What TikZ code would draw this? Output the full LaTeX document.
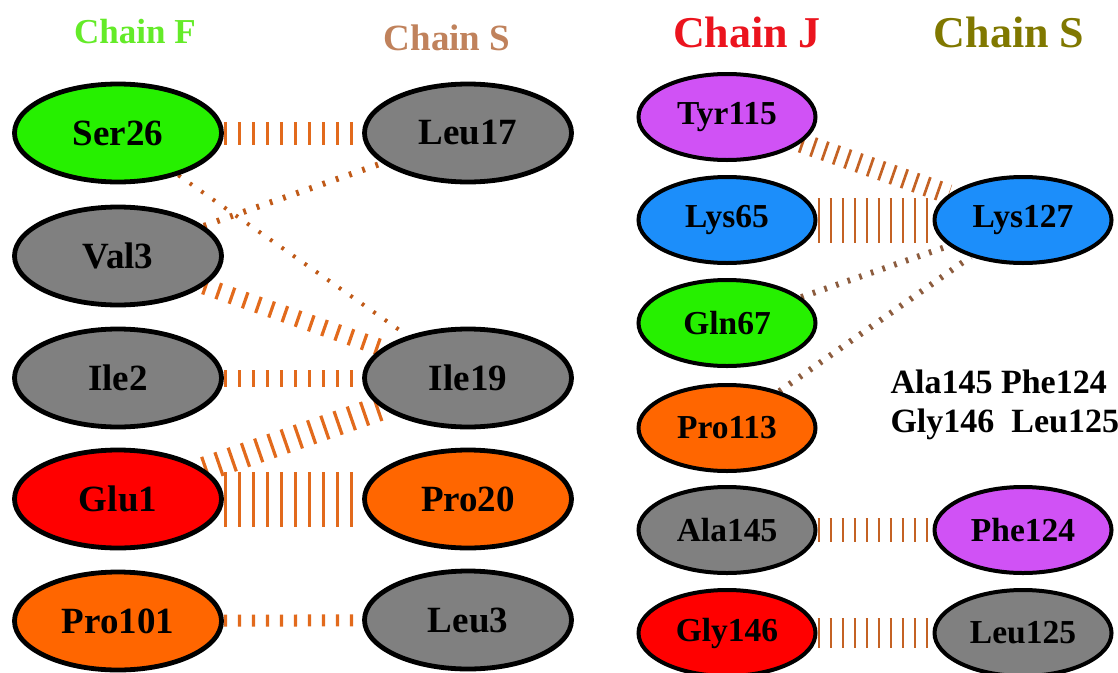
\documentclass[tikz,border=0pt]{standalone}
\usepackage{fontspec}
\setmainfont{Liberation Serif}
\usetikzlibrary{shapes.geometric,backgrounds}

% residue fills
\definecolor{resGreen}{RGB}{38,240,0}
\definecolor{resGray}{RGB}{128,128,128}
\definecolor{resRed}{RGB}{255,0,0}
\definecolor{resOrange}{RGB}{255,102,0}
\definecolor{resPurple}{RGB}{208,82,245}
\definecolor{resBlue}{RGB}{28,142,250}
% chain titles
\definecolor{titF}{RGB}{100,235,40}
\definecolor{titSa}{RGB}{192,130,92}
\definecolor{titJ}{RGB}{235,20,30}
\definecolor{titSb}{RGB}{128,120,0}
% contact ladders
\definecolor{bondL}{RGB}{226,106,28}
\definecolor{bondR}{RGB}{196,98,36}
\definecolor{bondD}{RGB}{140,92,62}

\begin{document}
\begin{tikzpicture}[x=1pt,y=-1pt,
  resL/.style={ellipse, draw=black, line width=4.8pt, minimum width=207pt,
    minimum height=98pt, inner sep=0pt, font=\fontsize{37}{40}\selectfont\bfseries},
  resR/.style={ellipse, draw=black, line width=4pt, minimum width=177pt,
    minimum height=86pt, inner sep=0pt, font=\fontsize{33.5}{36}\selectfont\bfseries},
  title/.style={anchor=base, font=\bfseries},
  pairtext/.style={anchor=base west, font=\fontsize{34}{39}\selectfont\bfseries},
  tickL/.style={draw=bondL, line width=#1, dash pattern=on 3.2pt off 10.8pt},
  dotL/.style={draw=bondL!85!black, line width=#1, dash pattern=on 2.8pt off 11.2pt},
  tickR/.style={draw=bondR, line width=#1, dash pattern=on 2.7pt off 9.3pt},
  dotR/.style={draw=bondD, line width=#1, dash pattern=on 2.7pt off 9.6pt},
]
\useasboundingbox (0,0) rectangle (1118,672);

% chain headings
\node[title, text=titF,  font=\fontsize{35}{40}\selectfont\bfseries] (hF)  at (135,43) {Chain F};
\node[title, text=titSa, font=\fontsize{37}{42}\selectfont\bfseries] (hSa) at (447,50) {Chain S};
\node[title, text=titJ,  font=\fontsize{44}{50}\selectfont\bfseries] (hJ)  at (747,47) {Chain J};
\node[title, text=titSb, font=\fontsize{44}{50}\selectfont\bfseries] (hSb) at (1009,47) {Chain S};

% left panel, chain F
\node[resL, fill=resGreen]  (Ser26)  at (118,133) {Ser26};
\node[resL, fill=resGray]   (Val3)   at (118,256) {Val3};
\node[resL, fill=resGray]   (Ile2)   at (118,378) {Ile2};
\node[resL, fill=resRed]    (Glu1)   at (118,499) {Glu1};
\node[resL, fill=resOrange] (Pro101) at (118,621) {Pro101};
% left panel, chain S
\node[resL, fill=resGray]   (Leu17)  at (468,133) {Leu17};
\node[resL, fill=resGray]   (Ile19)  at (468,378) {Ile19};
\node[resL, fill=resOrange] (Pro20)  at (468,499) {Pro20};
\node[resL, fill=resGray]   (Leu3)   at (468,620) {Leu3};

% right panel, chain J
\node[resR, fill=resPurple] (Tyr115) at (727,117) {Tyr115};
\node[resR, fill=resBlue]   (Lys65)  at (727,220) {Lys65};
\node[resR, fill=resGreen]  (Gln67)  at (727,323) {Gln67};
\node[resR, fill=resOrange] (Pro113) at (727,428) {Pro113};
\node[resR, fill=resGray]   (Ala145) at (727,530) {Ala145};
\node[resR, fill=resRed]    (Gly146) at (727,633) {Gly146};
% right panel, chain S
\node[resR, fill=resBlue]   (Lys127) at (1023,220) {Lys127};
\node[resR, fill=resPurple] (Phe124) at (1023,530) {Phe124};
\node[resR, fill=resGray]   (Leu125) at (1023,633) {Leu125};

% pair list
\node[pairtext] (pairA) at (887,393) {Ala145 Phe124};
\node[pairtext] (pairB) at (887,432) {Gly146~~Leu125};

% contacts, drawn beneath the residues
\begin{scope}[on background layer]
  \draw[tickL=23pt] (Ser26) -- (Leu17);
  \draw[dotL=4pt]   (Ser26) -- (Ile19);
  \draw[dotL=6pt]   (Val3)  -- (Leu17);
  \draw[tickL=17pt] (Val3)  -- (Ile19);
  \draw[tickL=17pt] (Ile2)  -- (Ile19);
  \draw[tickL=25pt] (Glu1)  -- (Ile19);
  \draw[tickL=55pt] (Glu1)  -- (Pro20);
  \draw[tickL=12pt] (Pro101) -- (Leu3);

  \draw[tickR=20pt] (Tyr115) -- (Lys127);
  \draw[tickR=45pt] (Lys65)  -- (Lys127);
  \draw[dotR=6pt]   (Gln67)  -- (Lys127);
  \draw[dotR=6pt]   (Pro113) -- (Lys127);
  \draw[tickR=24pt] (Ala145) -- (Phe124);
  \draw[tickR=30pt] (Gly146) -- (Leu125);
\end{scope}
\end{tikzpicture}
\end{document}
